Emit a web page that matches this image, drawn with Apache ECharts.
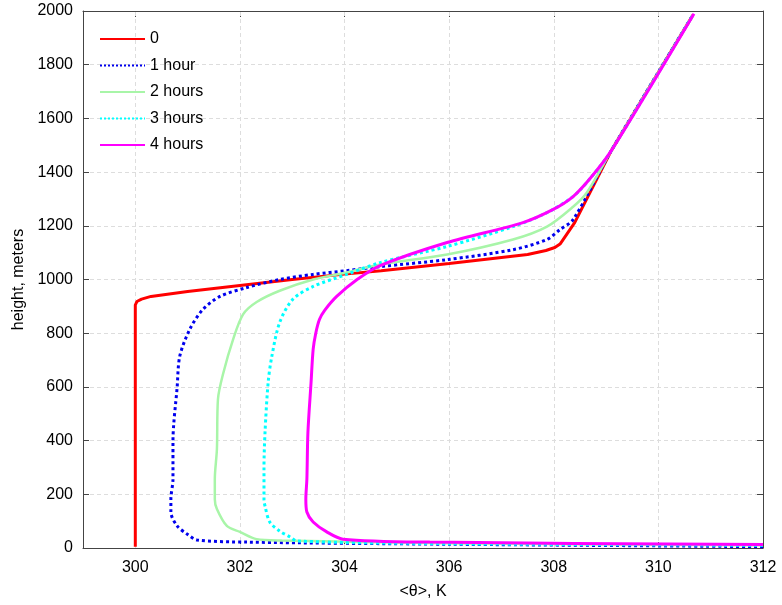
<!DOCTYPE html>
<html><head><meta charset="utf-8">
<script src="https://cdn.jsdelivr.net/npm/echarts@6/dist/echarts.min.js"></script>
<style>html,body{margin:0;padding:0;background:#fff}#c{width:782px;height:605px}</style>
</head><body><div id="c"></div>
<script>
const seriesNames = ['0', '1 hour', '2 hours', '3 hours', '4 hours'];
const xTicks = [300, 302, 304, 306, 308, 310, 312];
const yTicks = [0, 200, 400, 600, 800, 1000, 1200, 1400, 1600, 1800, 2000];

const theta0 = [300, 300, 300.03, 300.12, 300.3, 301, 302, 303, 304, 304.7, 306, 307.5, 307.85, 308.02, 308.12, 308.4, 309.1, 310.66];
const height0 = [5, 905, 918, 927, 937, 955, 978, 1000, 1020, 1033, 1060, 1093, 1108, 1119, 1132, 1212, 1480, 1985];

const theta1 = [312, 306, 302.13, 301.18, 300.99, 300.8, 300.68, 300.68, 300.72, 300.72, 300.8, 300.85, 301.04, 301.29, 301.62, 302.13, 302.76, 303.4, 304.04, 304.68, 305.96, 307.22, 307.87, 308.12, 308.37, 309.1, 310.66];
const height1 = [5, 14, 22, 30, 52, 82, 134, 182, 256, 398, 599, 714, 814, 888, 937, 970, 1000, 1019, 1033, 1048, 1074, 1111, 1149, 1186, 1223, 1480, 1985];

const theta2 = [312, 306, 302.8, 302.32, 302, 301.75, 301.56, 301.52, 301.52, 301.56, 301.58, 301.68, 301.87, 302.06, 302.32, 302.76, 303.4, 304.04, 304.68, 305.96, 307.22, 307.87, 308.37, 308.63, 309.1, 310.66];
const height2 = [10, 18, 28, 33, 60, 82, 145, 182, 256, 368, 554, 650, 777, 870, 916, 958, 1000, 1026, 1056, 1093, 1149, 1197, 1271, 1323, 1480, 1985];

const theta3 = [312, 306, 303.09, 302.96, 302.76, 302.57, 302.48, 302.46, 302.46, 302.48, 302.54, 302.61, 302.76, 303.01, 303.4, 304.04, 304.68, 305.96, 307.22, 307.87, 308.37, 308.69, 309.1, 310.66];
const height3 = [10, 16, 26, 41, 63, 97, 156, 182, 300, 431, 617, 714, 840, 926, 974, 1019, 1063, 1123, 1197, 1249, 1309, 1375, 1480, 1985];

const theta4 = [312, 305.63, 303.97, 303.66, 303.4, 303.28, 303.26, 303.28, 303.3, 303.36, 303.4, 303.45, 303.52, 303.62, 303.85, 304.24, 304.68, 305.96, 307.41, 307.98, 308.37, 308.69, 309.1, 310.68];
const height4 = [13, 22, 33, 60, 97, 134, 182, 256, 431, 617, 740, 800, 851, 885, 937, 1000, 1052, 1138, 1212, 1260, 1309, 1375, 1480, 1990];

const thetas = [theta0, theta1, theta2, theta3, theta4];
const heights = [height0, height1, height2, height3, height4];
const colors = ['#ff0000', '#0000ee', '#a8f5a8', '#00ffff', '#ff00ff'];
const types = ['solid', 'dotted', 'solid', 'dotted', 'solid'];
const widths = [3, 3, 2.5, 3, 3];
const smooth = [false, 0.3, 0.3, 0.3, 0.3];

const chart = echarts.init(document.getElementById('c'));
const font = 'Liberation Sans, Arial, Helvetica, sans-serif';
const gridColor = '#dddddd';
const axisLine = {show: true, onZero: false, lineStyle: {color: '#444', width: 1}};
const xTick = {show: true, inside: true, length: 6, lineStyle: {color: '#444'}, customValues: xTicks};
const yTick = {show: true, inside: true, length: 6, lineStyle: {color: '#444'}};

const series = seriesNames.map((name, i) => ({
  name: name,
  type: 'line',
  data: thetas[i].map((t, k) => [t, heights[i][k]]),
  showSymbol: false,
  symbol: 'none',
  smooth: smooth[i],
  clip: true,
  lineStyle: {color: colors[i], width: widths[i], type: types[i]},
  itemStyle: {color: colors[i]},
  z: 3 + i
}));

chart.setOption({
  animation: false,
  backgroundColor: '#fff',
  grid: {left: 83, right: 19, top: 11, bottom: 56, containLabel: false},
  legend: {
    data: seriesNames,
    orient: 'vertical',
    left: 94, top: 26,
    itemWidth: 45, itemHeight: 14, itemGap: 10.5,
    itemStyle: {opacity: 0},
    textStyle: {fontFamily: font, fontSize: 16, color: '#000'}
  },
  xAxis: [{
    type: 'value', min: 299, max: 312, interval: 1,
    name: '<θ>, K', nameLocation: 'middle', nameGap: 36,
    nameTextStyle: {fontFamily: font, fontSize: 16, color: '#000'},
    axisLine: axisLine, axisTick: xTick, splitLine: {show: false},
    axisLabel: {fontFamily: font, fontSize: 16, color: '#000', margin: 12, customValues: xTicks,
      formatter: v => String(v)}
  }, {
    type: 'value', min: 299, max: 312, interval: 1, position: 'top',
    axisLine: axisLine, axisTick: xTick, axisLabel: {show: false}, splitLine: {show: false}
  }],
  yAxis: [{
    type: 'value', min: 0, max: 2000, interval: 200,
    name: 'height, meters', nameLocation: 'middle', nameGap: 55,
    nameTextStyle: {fontFamily: font, fontSize: 16, color: '#000'},
    axisLine: axisLine, axisTick: yTick,
    splitLine: {show: true, lineStyle: {color: gridColor, type: [4, 3], width: 1}},
    axisLabel: {fontFamily: font, fontSize: 16, color: '#000', margin: 10,
      formatter: v => yTicks.includes(v) ? String(v) : ''}
  }, {
    type: 'value', min: 0, max: 2000, interval: 200, position: 'right',
    axisLine: axisLine, axisTick: yTick, axisLabel: {show: false}, splitLine: {show: false}
  }],
  series: series.concat([{
    type: 'line', data: [], xAxisIndex: 0, yAxisIndex: 0, z: 1,
    markLine: {
      silent: true, symbol: 'none', label: {show: false}, z: 1,
      lineStyle: {color: gridColor, type: [4, 3], width: 1},
      data: xTicks.filter(v => v > 299 && v < 312).map(v => ({xAxis: v}))
    }
  }])
});
</script></body></html>
